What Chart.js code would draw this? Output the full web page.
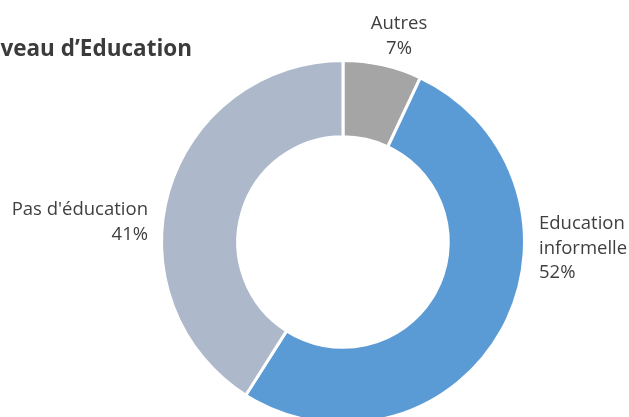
<!DOCTYPE html>
<html>
<head>
<meta charset="utf-8">
<script src="https://cdn.jsdelivr.net/npm/chart.js@4"></script>
<style>
    html, body { margin: 0; padding: 0; background: #ffffff; overflow: hidden; }
    #wrap { width: 629px; height: 417px; overflow: hidden; }
</style>
</head>
<body>
<div id="wrap"><canvas id="eduChart" width="629" height="440"></canvas></div>
<script>
const titleText = "Niveau d\u2019Education";
const categories = ["Autres", "Education informelle", "Pas d'\u00e9ducation"];
const labelLines = [["Autres"], ["Education", "informelle"], ["Pas d'\u00e9ducation"]];
const shares = [7, 52, 41];
const sliceColors = ["#A5A5A5", "#5B9BD5", "#ADB9CA"];

const FONT = "'Open Sans', sans-serif";

// draws the title and the outside labels next to each arc
const outsideLabels = {
    id: "outsideLabels",
    afterDatasetsDraw(chart) {
        const ctx = chart.ctx;
        const arcs = chart.getDatasetMeta(0).data;
        const total = shares.reduce((a, b) => a + b, 0);

        ctx.save();
        ctx.fillStyle = "#3b3b3b";
        ctx.font = "bold 22.5px " + FONT;
        ctx.textAlign = "right";
        ctx.textBaseline = "alphabetic";
        ctx.fillText(titleText, 192, 56);

        ctx.font = "18.5px " + FONT;
        ctx.fillStyle = "#3f3f3f";
        const lineH = 24.5;

        arcs.forEach(function (arc, i) {
            const { x, y, outerRadius } = arc.getProps(["x", "y", "outerRadius"], true);
            const R = outerRadius + 1.5;
            const lines = labelLines[i].concat([Math.round(shares[i] / total * 100) + "%"]);
            let tx, ty;
            if (i === 0) {
                ctx.textAlign = "center";
                tx = x + 56;
                ty = y - R - 30;
            } else if (i === 1) {
                ctx.textAlign = "left";
                tx = x + R + 13;
                ty = y - 13;
            } else {
                ctx.textAlign = "right";
                tx = x - R - 12;
                ty = y - 27;
            }
            lines.forEach(function (line, k) {
                ctx.fillText(line, tx, ty + k * lineH);
            });
        });
        ctx.restore();
    }
};

new Chart(document.getElementById("eduChart"), {
    type: "doughnut",
    data: {
        labels: categories,
        datasets: [{
            data: shares,
            backgroundColor: sliceColors,
            borderColor: "#ffffff",
            borderWidth: 3
        }]
    },
    options: {
        responsive: false,
        animation: false,
        cutout: "58%",
        layout: {
            padding: { left: 160, right: 103, top: 59, bottom: 15 }
        },
        plugins: {
            legend: { display: false },
            tooltip: { enabled: false }
        }
    },
    plugins: [outsideLabels]
});
</script>
</body>
</html>
